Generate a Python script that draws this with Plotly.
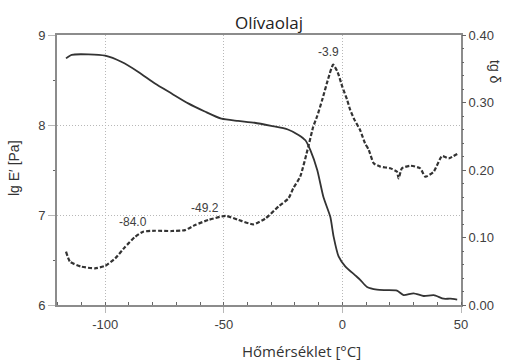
import plotly.graph_objects as go

# Storage modulus (lg E') vs temperature
temp_E = [-116.5, -114.1, -107.0, -100.0, -93.0, -86.0, -79.0, -72.0, -65.0, -58.0,
          -51.0, -44.0, -37.0, -30.0, -23.0, -18.5, -15.6, -13.5, -10.6, -8.0,
          -5.1, -3.7, -1.6, 1.2, 5.4, 7.5, 10.4, 14.6, 18.5, 23.0,
          25.8, 30.0, 34.3, 38.5, 42.7, 45.5, 48.4]
lg_E = [8.74, 8.78, 8.785, 8.77, 8.70, 8.59, 8.46, 8.35, 8.24, 8.15,
        8.07, 8.045, 8.025, 7.99, 7.95, 7.89, 7.83, 7.72, 7.50, 7.20,
        6.98, 6.76, 6.54, 6.43, 6.33, 6.28, 6.20, 6.17, 6.165, 6.16,
        6.11, 6.13, 6.10, 6.11, 6.07, 6.07, 6.06]

# Loss factor (tg delta) vs temperature
temp_t = [-116.5, -114.8, -110.0, -104.3, -100.0, -95.8, -91.6, -87.4, -84.0, -79.0,
          -72.0, -66.3, -62.1, -56.5, -49.2, -43.8, -37.5, -32.5, -26.9, -22.7,
          -20.7, -17.8, -14.4, -12.3, -10.6, -8.5, -6.0, -3.9, -2.0, 0.0,
          2.0, 3.3, 5.0, 7.5, 9.5, 11.1, 13.2, 16.0, 20.2, 23.0,
          23.7, 25.1, 28.6, 32.8, 35.0, 38.5, 42.0, 44.8, 48.4]
tg_d = [0.079, 0.064, 0.0568, 0.0543, 0.058, 0.069, 0.086, 0.101, 0.1086, 0.110,
        0.1096, 0.111, 0.1185, 0.126, 0.132, 0.126, 0.1195, 0.128, 0.146, 0.158,
        0.173, 0.190, 0.234, 0.264, 0.280, 0.304, 0.335, 0.356, 0.345, 0.323,
        0.304, 0.289, 0.275, 0.259, 0.240, 0.230, 0.210, 0.205, 0.2025, 0.1975,
        0.1877, 0.2025, 0.2064, 0.2025, 0.190, 0.1975, 0.2207, 0.2173, 0.2237]

# Peak labels: text, label x, label y (on tg delta axis)
peak_text = ["-84.0", "-49.2", "-3.9"]
peak_x = [-88.4, -57.9, -5.7]
peak_y = [0.123, 0.144, 0.375]

ink = "#333333"
frame = "#8c8c8c"
label_col = "#404040"
grid_col = "#b8b8b8"

fig = go.Figure()
fig.add_trace(go.Scatter(x=temp_E, y=lg_E, mode="lines", yaxis="y",
                         line=dict(color=ink, width=1.8, shape="spline", smoothing=0.6),
                         showlegend=False))
fig.add_trace(go.Scatter(x=temp_t, y=tg_d, mode="lines", yaxis="y2",
                         line=dict(color=ink, width=2.2, dash="4px,2px",
                                   shape="spline", smoothing=0.5),
                         showlegend=False))

for t, x, y in zip(peak_text, peak_x, peak_y):
    fig.add_annotation(x=x, y=y, xref="x", yref="y2", text=t, showarrow=False,
                       xanchor="center", yanchor="middle",
                       font=dict(family="Liberation Sans", size=12, color=label_col))

tick_font = dict(family="Liberation Sans", size=13, color=label_col)

fig.update_layout(
    width=507, height=363,
    margin=dict(l=57, r=46, t=35, b=58),
    paper_bgcolor="white", plot_bgcolor="white",
    xaxis=dict(range=[-120.3, 50], tickvals=[-100, -50, 0, 50],
               ticktext=["-100", "-50", "0", "50"],
               showgrid=True, gridcolor=grid_col, griddash="1px,2px", gridwidth=1,
               zeroline=False, showline=True, linecolor=frame, linewidth=2, mirror=True,
               ticks="outside", ticklen=6, tickcolor=grid_col, tickwidth=1,
               minor=dict(dtick=10, tick0=0, ticks="inside", ticklen=3,
                          tickcolor="#666666", showgrid=False),
               tickfont=tick_font),
    yaxis=dict(range=[6, 9], tickvals=[6, 7, 8, 9],
               showgrid=True, gridcolor=grid_col, griddash="1px,2px", gridwidth=1,
               zeroline=False, showline=True, linecolor=frame, linewidth=2, mirror=True,
               ticks="outside", ticklen=7, tickcolor=grid_col, tickwidth=1,
               minor=dict(dtick=0.5, tick0=6, ticks="outside", ticklen=2,
                          tickcolor="#666666", showgrid=False),
               tickfont=tick_font),
    yaxis2=dict(range=[0, 0.4], tickvals=[0, 0.1, 0.2, 0.3, 0.4],
                ticktext=["0.00", "0.10", "0.20", "0.30", "0.40"],
                overlaying="y", side="right", showgrid=False, zeroline=False,
                showline=False, ticks="outside", ticklen=4, tickcolor="#666666",
                minor=dict(dtick=0.02, tick0=0, ticks="outside", ticklen=2,
                           tickcolor="#666666"),
                tickfont=tick_font),
)

# Titles, positioned in pixels and converted to paper coordinates below
W, H = 507, 363
L, R, T, B = 57, 46, 35, 58
pw, ph = W - L - R, H - T - B

titles = [
    ("Olívaolaj", 269, 22, 0, dict(family="Open Sans", size=17, color="#222222")),
    ("Hőmérséklet [°C]", 301, 351, 0, dict(family="Open Sans", size=15, color="#333333")),
    ("lg E′ [Pa]", 14, 168, -90, dict(family="Liberation Sans", size=14, color="#333333")),
    ("tg δ", 495, 72, 90, dict(family="Liberation Sans", size=14, color="#333333")),
]
for text, px, py, ang, font in titles:
    fig.add_annotation(x=(px - L) / pw, y=(H - B - py) / ph, xref="paper", yref="paper",
                       text=text, showarrow=False, textangle=ang,
                       xanchor="center", yanchor="middle", font=font)

fig.write_html("out.html")
